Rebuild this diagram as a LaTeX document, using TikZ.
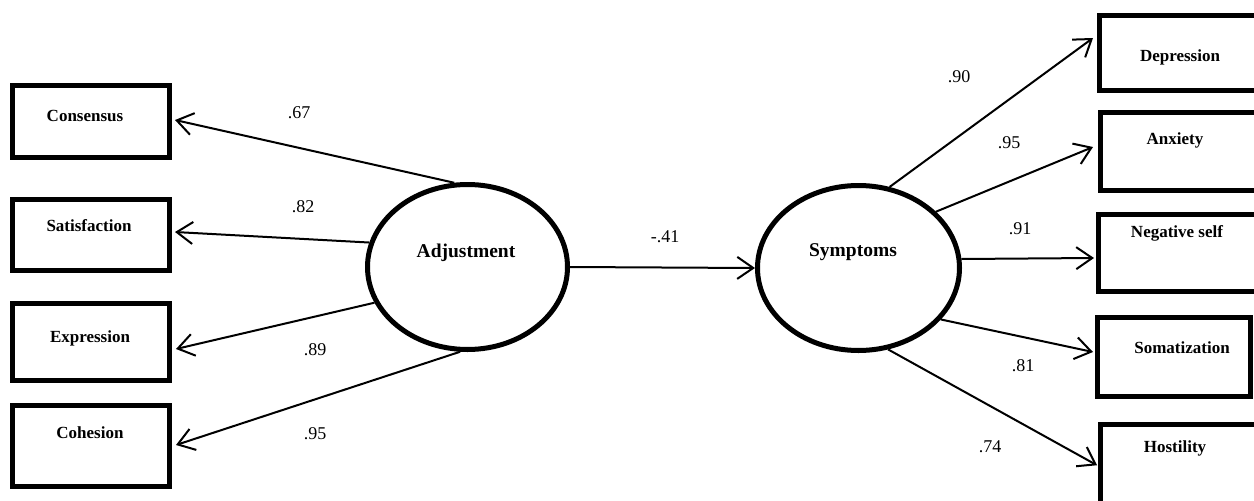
\documentclass[tikz,border=0pt]{standalone}
\usepackage{fontspec}
\setmainfont{Liberation Serif}
\usetikzlibrary{shapes.geometric,arrows.meta,calc}
\begin{document}
\begin{tikzpicture}[x=1pt,y=-1pt,
  lbox/.style={draw, line width=5pt, rectangle, inner sep=0pt},
  latent/.style={draw, ellipse, line width=5pt, inner sep=0pt},
  btext/.style={font=\fontsize{17}{20}\selectfont\bfseries, inner sep=0pt},
  ltext/.style={font=\fontsize{19.5}{23}\selectfont\bfseries, inner sep=0pt},
  coef/.style={font=\fontsize{18}{21}\selectfont, inner sep=0pt},
  link/.style={line width=2pt, -{Straight Barb[length=16pt,width=22pt,line width=2pt]}}
]
\useasboundingbox (0,0) rectangle (1254,501);
\fill[white] (0,0) rectangle (1254,501);
\clip (0,0) rectangle (1254,501);

% latent variables
\node[latent, minimum width=200pt, minimum height=165pt] (adj) at (467.5,267) {};
\node[latent, minimum width=202pt, minimum height=165pt] (sym) at (858.5,268) {};
\node[ltext] (adjt) at (466,253) {Adjustment};
\node[ltext] (symt) at (853,252) {Symptoms};

% left indicators
\node[lbox, minimum width=157pt, minimum height=72pt] (cons) at (91,121.5) {};
\node[lbox, minimum width=157pt, minimum height=71pt] (sat) at (91,235) {};
\node[lbox, minimum width=157pt, minimum height=77pt] (expr) at (91,342) {};
\node[lbox, minimum width=157pt, minimum height=81pt] (coh) at (91,446) {};
\node[btext] (const) at (85,116) {Consensus};
\node[btext] (satt) at (89,226) {Satisfaction};
\node[btext] (exprt) at (90,338) {Expression};
\node[btext] (coht) at (90,433) {Cohesion};

% right indicators
\node[lbox, minimum width=170.5pt, minimum height=75pt] (dep) at (1184.75,53) {};
\node[lbox, minimum width=169.5pt, minimum height=78pt] (anx) at (1185.25,151.5) {};
\node[lbox, minimum width=171.5pt, minimum height=77pt] (neg) at (1184.25,253) {};
\node[lbox, minimum width=153pt, minimum height=79pt] (som) at (1174,357) {};
\node[lbox, minimum width=169.5pt, minimum height=105.5pt] (hos) at (1185.25,477.25) {};
\node[btext] (dept) at (1180,57) {Depression};
\node[btext] (anxt) at (1175,140) {Anxiety};
\node[btext] (negt) at (1177,233) {Negative self};
\node[btext] (somt) at (1182,348) {Somatization};
\node[btext] (host) at (1175,448) {Hostility};

% connectors
\draw[link] (adj.99) -- ($(cons.east)+(3,-1.5)$);
\draw[link] (adj.166) -- ($(sat.east)+(3,-3)$);
\draw[link] (adj.201) -- ($(expr.east)+(4,7)$);
\draw[link] (adj.265) -- ($(coh.east)+(4,-1)$);
\draw[link] (adj.east) -- (sym.west);
\draw[link] (sym.69) -- ($(dep.west)+(-4,-15)$);
\draw[link] (sym.36) -- ($(anx.west)+(-5,-4.5)$);
\draw[link] (sym.5.5) -- ($(neg.west)+(-2,5)$);
\draw[link] (sym.-32) -- ($(som.west)+(-2,-5)$);
\draw[link] (sym.-70) -- ($(hos.west)+(-1,-12)$);

% coefficients
\node[coef] (c1) at (299,113) {.67};
\node[coef] (c2) at (303,207) {.82};
\node[coef] (c3) at (315,350) {.89};
\node[coef] (c4) at (315,434) {.95};
\node[coef] (c5) at (665,237) {-.41};
\node[coef] (c6) at (959,77) {.90};
\node[coef] (c7) at (1009,143) {.95};
\node[coef] (c8) at (1020,229) {.91};
\node[coef] (c9) at (1023,366) {.81};
\node[coef] (c10) at (990,447) {.74};
\end{tikzpicture}
\end{document}
